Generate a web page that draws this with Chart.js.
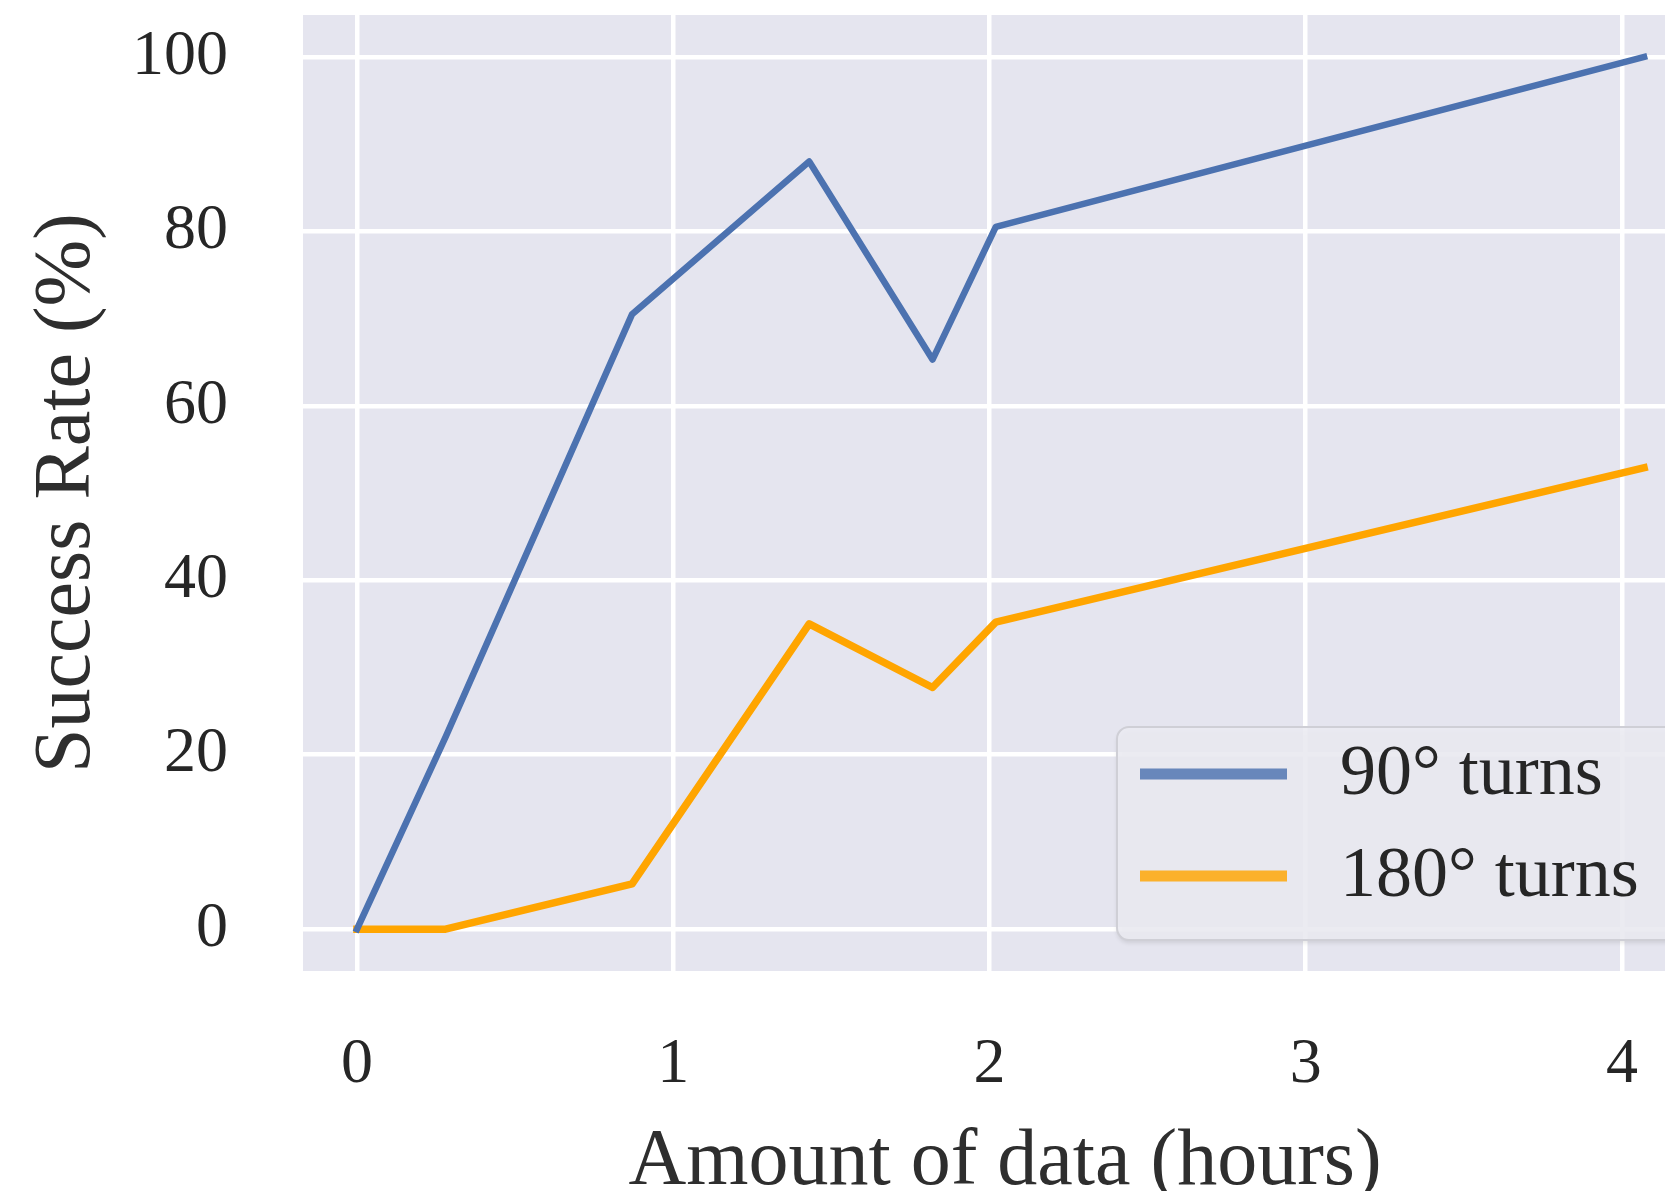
<!DOCTYPE html>
<html><head><meta charset="utf-8">
<script src="https://cdn.jsdelivr.net/npm/chart.js@4.4.1/dist/chart.umd.min.js"></script>
<style>
html,body{margin:0;padding:0;background:#fff;overflow:hidden;width:1665px;height:1191px}
#wrap{width:1665px;height:1191px;overflow:hidden;position:relative}
#box{position:absolute;left:0;top:0;width:1707px;height:1191px}
</style></head><body>
<div id="wrap"><div id="box"><canvas id="c"></canvas></div></div>
<script>
const hours = [0, 0.28, 0.87, 1.43, 1.82, 2.02, 4.07];
const turns90 = [0, 22, 70.5, 88, 65.3, 80.5, 100];
const turns180 = [0, 0, 5.2, 35, 27.7, 35.2, 52.9];
const xTicks = [0, 1, 2, 3, 4];
const yTicks = [0, 20, 40, 60, 80, 100];
const seriesLabels = ['90° turns', '180° turns'];
const seriesColors = ['#4c72b0', '#ffa500'];

const FONT = 'Liberation Serif';
const TXT = '#262626';

const bgPlugin = {
  id: 'bg',
  beforeDraw(chart) {
    const {ctx, chartArea: a} = chart;
    ctx.save();
    ctx.fillStyle = '#e5e5ef';
    ctx.fillRect(a.left, a.top, a.right - a.left, a.bottom - a.top);
    ctx.restore();
  }
};

const legendPlugin = {
  id: 'boxLegend',
  afterDatasetsDraw(chart) {
    const ctx = chart.ctx;
    const a = chart.chartArea;
    ctx.save();
    const bx = 1117, by = 727, bw = a.right - 27 - bx, bh = 213;
    ctx.shadowColor = 'rgba(0,0,0,0.12)';
    ctx.shadowOffsetY = 3;
    ctx.shadowBlur = 4;
    ctx.beginPath();
    ctx.roundRect(bx, by, bw, bh, 12);
    ctx.fillStyle = 'rgba(236,236,243,0.85)';
    ctx.fill();
    ctx.shadowColor = 'transparent';
    ctx.lineWidth = 2;
    ctx.strokeStyle = '#cfcfd6';
    ctx.stroke();
    chart.data.datasets.forEach((ds, i) => {
      const y = 774 + i * 102;
      ctx.globalAlpha = 0.82;
      ctx.strokeStyle = ds.borderColor;
      ctx.lineWidth = 11;
      ctx.lineCap = 'butt';
      ctx.beginPath();
      ctx.moveTo(1140, y);
      ctx.lineTo(1287, y);
      ctx.stroke();
      ctx.globalAlpha = 1;
      ctx.fillStyle = TXT;
      ctx.font = '72px "' + FONT + '"';
      ctx.textBaseline = 'alphabetic';
      ctx.textAlign = 'left';
      ctx.fillText(ds.label, 1340, y + 20);
    });
    ctx.restore();
  }
};

const toPts = (xs, ys) => xs.map((x, i) => ({x: x, y: ys[i]}));

new Chart(document.getElementById('c'), {
  type: 'line',
  data: {
    datasets: [
      {label: seriesLabels[0], data: toPts(hours, turns90), borderColor: seriesColors[0], borderWidth: 6.5,
       pointRadius: 0, tension: 0, borderCapStyle: 'square', borderJoinStyle: 'round', fill: false},
      {label: seriesLabels[1], data: toPts(hours, turns180), borderColor: seriesColors[1], borderWidth: 7.5,
       pointRadius: 0, tension: 0, borderCapStyle: 'square', borderJoinStyle: 'round', fill: false}
    ]
  },
  options: {
    responsive: true,
    maintainAspectRatio: false,
    animation: false,
    devicePixelRatio: 1,
    layout: {padding: {top: 15, left: 0, right: 0, bottom: 0}},
    plugins: {legend: {display: false}, tooltip: {enabled: false}},
    scales: {
      x: {
        type: 'linear', min: -0.1707, max: 4.269,
        afterBuildTicks: s => { s.ticks = xTicks.map(v => ({value: v})); },
        afterFit: s => { s.height = 220; s.paddingLeft = 0; s.paddingRight = 0; },
        grid: {color: '#ffffff', lineWidth: 4.5, drawTicks: false},
        border: {display: false},
        ticks: {padding: 56, color: TXT, autoSkip: false, maxRotation: 0,
                font: {family: FONT, size: 64}, callback: v => String(v)},
        title: {display: true, text: 'Amount of data (hours)', color: '#2e2e2e',
                font: {family: FONT, size: 80, lineHeight: 0.7}, padding: {top: 0, bottom: 0}}
      },
      y: {
        type: 'linear', min: -4.8, max: 104.8,
        afterBuildTicks: s => { s.ticks = yTicks.map(v => ({value: v})); },
        afterFit: s => { s.width = 303; s.paddingTop = 0; s.paddingBottom = 0; },
        grid: {color: '#ffffff', lineWidth: 4.5, drawTicks: false},
        border: {display: false},
        ticks: {padding: 75, color: TXT, autoSkip: false,
                font: {family: FONT, size: 64}, callback: v => String(v)},
        title: {display: true, text: 'Success Rate (%)', color: '#2e2e2e',
                font: {family: FONT, size: 80, lineHeight: 0.9}, padding: {top: 32, bottom: 0}}
      }
    }
  },
  plugins: [bgPlugin, legendPlugin]
});
</script>
</body></html>
